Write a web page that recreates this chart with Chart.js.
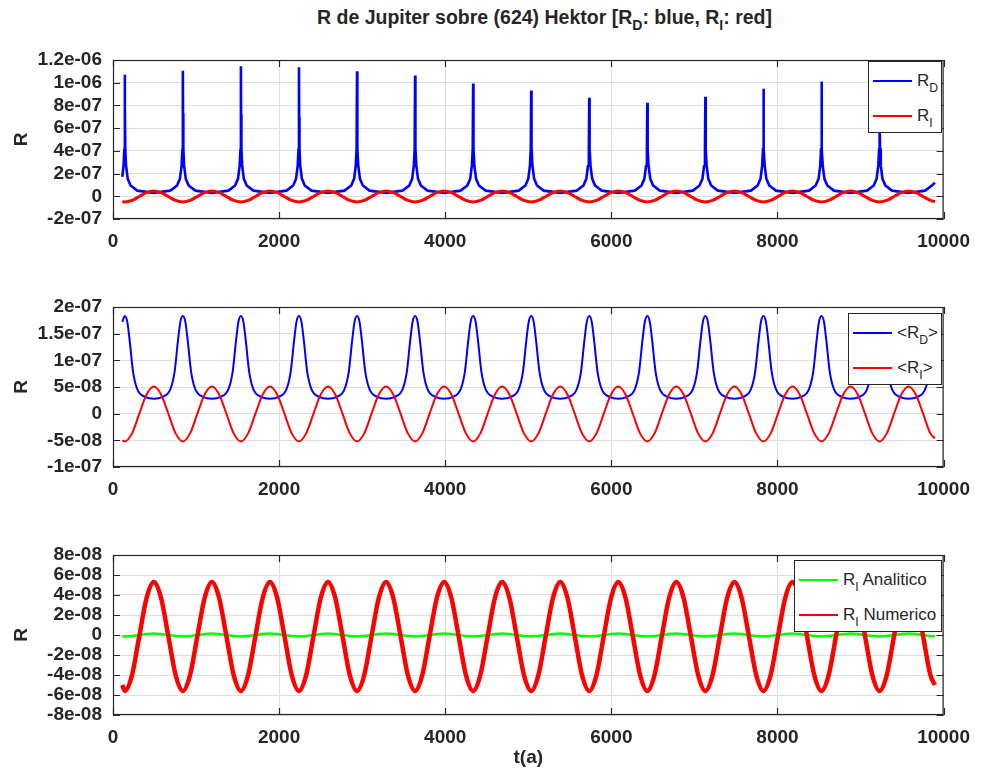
<!DOCTYPE html>
<html>
<head>
<meta charset="utf-8">
<script src="https://cdn.jsdelivr.net/npm/chart.js@4.4.0/dist/chart.umd.min.js"></script>
<style>
  body { margin: 0; background: #fff; }
  #wrap { position: relative; width: 981px; height: 774px; background: #fff; overflow: hidden; }
  canvas { position: absolute; left: 0; }
  #title { position: absolute; left: 127px; width: 835px; top: 6px; text-align: center; white-space: nowrap;
           font: bold 19.5px 'Liberation Sans Narrow', 'Liberation Sans', Arial, sans-serif; color: #262626; }
  sub { font-size: 0.72em; vertical-align: -0.45em; line-height: 0; }
  .legend { position: absolute; box-sizing: border-box; border: 1.5px solid #262626; background: #fff;
            font: 17px 'Liberation Sans', Arial, sans-serif; color: #262626; }
  .row { height: 35px; display: flex; align-items: center; padding-left: 4px; white-space: nowrap; }
  .swatch { width: 39px; height: 0; margin-right: 5px; }
</style>
</head>
<body>
<div id="wrap">
  <div id="title">R de Jupiter sobre (624) Hektor [R<sub>D</sub>: blue, R<sub>I</sub>: red]</div>
  <canvas id="c1" width="981" height="270" style="top:0px"></canvas>
  <canvas id="c2" width="981" height="250" style="top:270px"></canvas>
  <canvas id="c3" width="981" height="254" style="top:520px"></canvas>
</div>
<script>
// axis ticks
const xTicks = [0, 2000, 4000, 6000, 8000, 10000];
const xTickLabels = ['0', '2000', '4000', '6000', '8000', '10000'];
const yTicks1 = [-2e-7, 0, 2e-7, 4e-7, 6e-7, 8e-7, 1e-6, 1.2e-6];
const yTickLabels1 = ['-2e-07', '0', '2e-07', '4e-07', '6e-07', '8e-07', '1e-06', '1.2e-06'];
const yTicks2 = [-1e-7, -5e-8, 0, 5e-8, 1e-7, 1.5e-7, 2e-7];
const yTickLabels2 = ['-1e-07', '-5e-08', '0', '5e-08', '1e-07', '1.5e-07', '2e-07'];
const yTicks3 = [-8e-8, -6e-8, -4e-8, -2e-8, 0, 2e-8, 4e-8, 6e-8, 8e-8];
const yTickLabels3 = ['-8e-08', '-6e-08', '-4e-08', '-2e-08', '0', '2e-08', '4e-08', '6e-08', '8e-08'];

// legend labels ("_X" = subscript)
const labels1 = ['R_D', 'R_I'];
const labels2 = ['<R_D>', '<R_I>'];
const labels3 = ['R_I Analitico', 'R_I Numerico'];

// all values below are in units of 1e-8, times in years

// top panel, R_D (spikes)
const rD1Times = [112,127,137,142,144,148,157,177,212,292,492,
  691,771,806,826,836,841,843,847,856,876,911,991,1191,
  1390,1470,1505,1525,1535,1540,1542,1546,1555,1575,1610,1690,1890,
  2089,2169,2204,2224,2234,2239,2241,2245,2254,2274,2309,2389,2589,
  2788,2868,2903,2923,2933,2938,2940,2944,2953,2973,3008,3088,3288,
  3487,3567,3602,3622,3632,3637,3639,3643,3652,3672,3707,3787,3987,
  4186,4266,4301,4321,4331,4336,4338,4342,4351,4371,4406,4486,4686,
  4885,4965,5000,5020,5030,5035,5037,5041,5050,5070,5105,5185,5385,
  5584,5664,5699,5719,5729,5734,5736,5740,5749,5769,5804,5884,6084,
  6283,6363,6398,6418,6428,6433,6435,6439,6448,6468,6503,6583,6783,
  6982,7062,7097,7117,7127,7132,7134,7138,7147,7167,7202,7282,7482,
  7681,7761,7796,7816,7826,7831,7833,7837,7846,7866,7901,7981,8181,
  8380,8460,8495,8515,8525,8530,8532,8536,8545,8565,8600,8680,8880,
  9079,9159,9194,9214,9224,9229,9231,9235,9244,9264,9299,9379,9579,
  9779,9859,9896];
const rD1 = [17,27,42,107,75,42,27,15.5,9.5,5.0,3.0,
  5.0,9.5,15.5,27,42,110.5,73,42,27,15.5,9.5,5.0,3.0,
  5.0,9.5,15.5,27,42,114.5,72,42,27,15.5,9.5,5.0,3.0,
  5.0,9.5,15.5,27,42,113.7,70,42,27,15.5,9.5,5.0,3.0,
  5.0,9.5,15.5,27,42,110,67,42,27,15.5,9.5,5.0,3.0,
  5.0,9.5,15.5,27,42,106.3,65,42,27,15.5,9.5,5.0,3.0,
  5.0,9.5,15.5,27,42,99.3,62,42,27,15.5,9.5,5.0,3.0,
  5.0,9.5,15.5,27,42,93.1,62,42,27,15.5,9.5,5.0,3.0,
  5.0,9.5,15.5,27,42,86.7,55,42,27,15.5,9.5,5.0,3.0,
  5.0,9.5,15.5,27,42,82.3,53,42,27,15.5,9.5,5.0,3.0,
  5.0,9.5,15.5,27,42,87.6,62,42,27,15.5,9.5,5.0,3.0,
  5.0,9.5,15.5,27,42,94.6,65,42,27,15.5,9.5,5.0,3.0,
  5.0,9.5,15.5,27,42,101,68,42,27,15.5,9.5,5.0,3.0,
  5.0,9.5,15.5,27,42,104,66,42,27,15.5,9.5,5.0,3.0,
  5.0,9.5,12];

// middle panel, <R_D>
const rD2Times = [112,142,172,202,242,292,392,492,
  591,691,741,781,811,841,871,901,941,991,1091,1191,
  1290,1390,1440,1480,1510,1540,1570,1600,1640,1690,1790,1890,
  1989,2089,2139,2179,2209,2239,2269,2299,2339,2389,2489,2589,
  2688,2788,2838,2878,2908,2938,2968,2998,3038,3088,3188,3288,
  3387,3487,3537,3577,3607,3637,3667,3697,3737,3787,3887,3987,
  4086,4186,4236,4276,4306,4336,4366,4396,4436,4486,4586,4686,
  4785,4885,4935,4975,5005,5035,5065,5095,5135,5185,5285,5385,
  5484,5584,5634,5674,5704,5734,5764,5794,5834,5884,5984,6084,
  6183,6283,6333,6373,6403,6433,6463,6493,6533,6583,6683,6783,
  6882,6982,7032,7072,7102,7132,7162,7192,7232,7282,7382,7482,
  7581,7681,7731,7771,7801,7831,7861,7891,7931,7981,8081,8181,
  8280,8380,8430,8470,8500,8530,8560,8590,8630,8680,8780,8880,
  8979,9079,9129,9169,9199,9229,9259,9289,9329,9379,9479,9579,
  9679,9779,9829,9869,9896];
const rD2 = [17.2,18.3,17.2,13.5,7.8,4.6,3.1,2.8,
  3.1,4.6,7.8,13.5,17.2,18.3,17.2,13.5,7.8,4.6,3.1,2.8,
  3.1,4.6,7.8,13.5,17.2,18.3,17.2,13.5,7.8,4.6,3.1,2.8,
  3.1,4.6,7.8,13.5,17.2,18.3,17.2,13.5,7.8,4.6,3.1,2.8,
  3.1,4.6,7.8,13.5,17.2,18.3,17.2,13.5,7.8,4.6,3.1,2.8,
  3.1,4.6,7.8,13.5,17.2,18.3,17.2,13.5,7.8,4.6,3.1,2.8,
  3.1,4.6,7.8,13.5,17.2,18.3,17.2,13.5,7.8,4.6,3.1,2.8,
  3.1,4.6,7.8,13.5,17.2,18.3,17.2,13.5,7.8,4.6,3.1,2.8,
  3.1,4.6,7.8,13.5,17.2,18.3,17.2,13.5,7.8,4.6,3.1,2.8,
  3.1,4.6,7.8,13.5,17.2,18.3,17.2,13.5,7.8,4.6,3.1,2.8,
  3.1,4.6,7.8,13.5,17.2,18.3,17.2,13.5,7.8,4.6,3.1,2.8,
  3.1,4.6,7.8,13.5,17.2,18.3,17.2,13.5,7.8,4.6,3.1,2.8,
  3.1,4.6,7.8,13.5,17.2,18.3,17.2,13.5,7.8,4.6,3.1,2.8,
  3.1,4.6,7.8,13.5,17.2,18.3,17.2,13.5,7.8,4.6,3.1,2.8,
  3.1,4.6,7.8,13.5,16.5];

// sampling times shared by the R_I curves
const rITimes = [112,
  142,229,317,404,492,579,666,754,
  841,928,1016,1103,1191,1278,1365,1453,
  1540,1627,1715,1802,1890,1977,2064,2152,
  2239,2326,2414,2501,2589,2676,2763,2851,
  2938,3025,3113,3200,3288,3375,3462,3550,
  3637,3724,3812,3899,3987,4074,4161,4249,
  4336,4423,4511,4598,4686,4773,4860,4948,
  5035,5122,5210,5297,5385,5472,5559,5647,
  5734,5821,5909,5996,6084,6171,6258,6346,
  6433,6520,6608,6695,6783,6870,6957,7045,
  7132,7219,7307,7394,7482,7569,7656,7744,
  7831,7918,8006,8093,8181,8268,8355,8443,
  8530,8617,8705,8792,8880,8967,9054,9142,
  9229,9316,9404,9491,9579,9666,9753,9841,
  9896];

// top panel, R_I
const rI1 = [-4.8,
  -5.0,-3.6,-0.2,3.2,4.6,3.2,-0.2,-3.6,
  -5.0,-3.6,-0.2,3.2,4.6,3.2,-0.2,-3.6,
  -5.0,-3.6,-0.2,3.2,4.6,3.2,-0.2,-3.6,
  -5.0,-3.6,-0.2,3.2,4.6,3.2,-0.2,-3.6,
  -5.0,-3.6,-0.2,3.2,4.6,3.2,-0.2,-3.6,
  -5.0,-3.6,-0.2,3.2,4.6,3.2,-0.2,-3.6,
  -5.0,-3.6,-0.2,3.2,4.6,3.2,-0.2,-3.6,
  -5.0,-3.6,-0.2,3.2,4.6,3.2,-0.2,-3.6,
  -5.0,-3.6,-0.2,3.2,4.6,3.2,-0.2,-3.6,
  -5.0,-3.6,-0.2,3.2,4.6,3.2,-0.2,-3.6,
  -5.0,-3.6,-0.2,3.2,4.6,3.2,-0.2,-3.6,
  -5.0,-3.6,-0.2,3.2,4.6,3.2,-0.2,-3.6,
  -5.0,-3.6,-0.2,3.2,4.6,3.2,-0.2,-3.6,
  -5.0,-3.6,-0.2,3.2,4.6,3.2,-0.2,-3.6,
  -4.8];

// middle panel, <R_I>
const rI2 = [-5.0,
  -5.2,-3.7,0,3.6,5.1,3.6,0,-3.7,
  -5.2,-3.7,0,3.6,5.1,3.6,0,-3.7,
  -5.2,-3.7,0,3.6,5.1,3.6,0,-3.7,
  -5.2,-3.7,0,3.6,5.1,3.6,0,-3.7,
  -5.2,-3.7,0,3.6,5.1,3.6,0,-3.7,
  -5.2,-3.7,0,3.6,5.1,3.6,0,-3.7,
  -5.2,-3.7,0,3.6,5.1,3.6,0,-3.7,
  -5.2,-3.7,0,3.6,5.1,3.6,0,-3.7,
  -5.2,-3.7,0,3.6,5.1,3.6,0,-3.7,
  -5.2,-3.7,0,3.6,5.1,3.6,0,-3.7,
  -5.2,-3.7,0,3.6,5.1,3.6,0,-3.7,
  -5.2,-3.7,0,3.6,5.1,3.6,0,-3.7,
  -5.2,-3.7,0,3.6,5.1,3.6,0,-3.7,
  -5.2,-3.7,0,3.6,5.1,3.6,0,-3.7,
  -4.6];

// bottom panel, R_I numerico
const rI3 = [-5.0,
  -5.6,-4.0,-0.1,3.7,5.3,3.7,-0.1,-4.0,
  -5.6,-4.0,-0.1,3.7,5.3,3.7,-0.1,-4.0,
  -5.6,-4.0,-0.1,3.7,5.3,3.7,-0.1,-4.0,
  -5.6,-4.0,-0.1,3.7,5.3,3.7,-0.1,-4.0,
  -5.6,-4.0,-0.1,3.7,5.3,3.7,-0.1,-4.0,
  -5.6,-4.0,-0.1,3.7,5.3,3.7,-0.1,-4.0,
  -5.6,-4.0,-0.1,3.7,5.3,3.7,-0.1,-4.0,
  -5.6,-4.0,-0.1,3.7,5.3,3.7,-0.1,-4.0,
  -5.6,-4.0,-0.1,3.7,5.3,3.7,-0.1,-4.0,
  -5.6,-4.0,-0.1,3.7,5.3,3.7,-0.1,-4.0,
  -5.6,-4.0,-0.1,3.7,5.3,3.7,-0.1,-4.0,
  -5.6,-4.0,-0.1,3.7,5.3,3.7,-0.1,-4.0,
  -5.6,-4.0,-0.1,3.7,5.3,3.7,-0.1,-4.0,
  -5.6,-4.0,-0.1,3.7,5.3,3.7,-0.1,-4.0,
  -5.0];

// bottom panel, R_I analitico
const gI3 = [-0.1,
  -0.15,-0.1,0,0.1,0.15,0.1,0,-0.1,
  -0.15,-0.1,0,0.1,0.15,0.1,0,-0.1,
  -0.15,-0.1,0,0.1,0.15,0.1,0,-0.1,
  -0.15,-0.1,0,0.1,0.15,0.1,0,-0.1,
  -0.15,-0.1,0,0.1,0.15,0.1,0,-0.1,
  -0.15,-0.1,0,0.1,0.15,0.1,0,-0.1,
  -0.15,-0.1,0,0.1,0.15,0.1,0,-0.1,
  -0.15,-0.1,0,0.1,0.15,0.1,0,-0.1,
  -0.15,-0.1,0,0.1,0.15,0.1,0,-0.1,
  -0.15,-0.1,0,0.1,0.15,0.1,0,-0.1,
  -0.15,-0.1,0,0.1,0.15,0.1,0,-0.1,
  -0.15,-0.1,0,0.1,0.15,0.1,0,-0.1,
  -0.15,-0.1,0,0.1,0.15,0.1,0,-0.1,
  -0.15,-0.1,0,0.1,0.15,0.1,0,-0.1,
  -0.12];

const BLUE = '#0000ff';
const RED = '#ff0000';
const GREEN = '#00ff00';
const INK = '#262626';
const GRID = '#dedede';

Chart.defaults.font.family = "'Liberation Sans', Arial, sans-serif";
Chart.defaults.color = INK;

const pts = function(times, vals) {
    return times.map((t, i) => ({x: t, y: vals[i] * 1e-8}));
};

// box round the axes with inward tick marks (octave style)
const framePlugin = {
    id: 'frame',
    afterDraw(chart) {
        const {ctx, chartArea: a, scales} = chart;
        ctx.save();
        ctx.strokeStyle = INK;
        ctx.lineWidth = 1.2;
        ctx.strokeRect(a.left + 0.5, a.top + 0.5, a.right - a.left - 1, a.bottom - a.top - 1);
        ctx.beginPath();
        scales.x.ticks.forEach(t => {
            const px = Math.round(scales.x.getPixelForValue(t.value)) + 0.5;
            ctx.moveTo(px, a.bottom); ctx.lineTo(px, a.bottom - 7);
            ctx.moveTo(px, a.top); ctx.lineTo(px, a.top + 7);
        });
        scales.y.ticks.forEach(t => {
            const py = Math.round(scales.y.getPixelForValue(t.value)) + 0.5;
            ctx.moveTo(a.left, py); ctx.lineTo(a.left + 7, py);
            ctx.moveTo(a.right, py); ctx.lineTo(a.right - 7, py);
        });
        ctx.stroke();
        ctx.restore();
    }
};

const makeOptions = function(yMin, yMax, yTicks, yLabels, padTop, xHeight, xTitle) {
    return {
        responsive: false,
        animation: false,
        devicePixelRatio: 1,
        layout: {padding: {left: 0, right: 33, top: padTop, bottom: 0}},
        plugins: {legend: {display: false}, tooltip: {enabled: false}},
        scales: {
            x: {
                type: 'linear', min: 0, max: 10000,
                afterBuildTicks: s => { s.ticks = xTicks.map(v => ({value: v})); },
                afterFit: s => { s.height = xHeight; },
                grid: {color: GRID, drawTicks: false},
                border: {display: false},
                ticks: {
                    autoSkip: false, maxRotation: 0, padding: 11,
                    font: {size: 19, weight: 'bold'}, color: INK,
                    callback: (v, i) => xTickLabels[i]
                },
                title: {
                    display: !!xTitle, text: xTitle || '', color: INK,
                    font: {size: 19, weight: 'bold'}, padding: {top: 0, bottom: 5}
                }
            },
            y: {
                type: 'linear', min: yMin, max: yMax,
                afterBuildTicks: s => { s.ticks = yTicks.map(v => ({value: v})); },
                afterFit: s => { s.width = 113; },
                grid: {color: GRID, drawTicks: false},
                border: {display: false},
                ticks: {
                    autoSkip: false, padding: 11,
                    font: {size: 19, weight: 'bold'}, color: INK,
                    callback: (v, i) => yLabels[i]
                },
                title: {
                    display: true, text: 'R', color: INK,
                    font: {size: 19, weight: 'bold'}, padding: {top: 10, bottom: 0}
                }
            }
        }
    };
};

const lineSet = function(data, color, width, smooth, order) {
    return {
        data: data, borderColor: color, borderWidth: width, pointRadius: 0,
        fill: false, tension: 0, cubicInterpolationMode: smooth ? 'monotone' : 'default',
        borderJoinStyle: 'bevel', order: order
    };
};

const chart1 = new Chart(document.getElementById('c1'), {
    type: 'line',
    data: {datasets: [
        lineSet(pts(rD1Times, rD1), BLUE, 2.6, false, 2),
        lineSet(pts(rITimes, rI1), RED, 3, true, 1)
    ]},
    options: makeOptions(-2e-7, 1.2e-6, yTicks1, yTickLabels1, 60, 51),
    plugins: [framePlugin]
});

const chart2 = new Chart(document.getElementById('c2'), {
    type: 'line',
    data: {datasets: [
        lineSet(pts(rD2Times, rD2), BLUE, 2, true, 2),
        lineSet(pts(rITimes, rI2), RED, 2, true, 1)
    ]},
    options: makeOptions(-1e-7, 2e-7, yTicks2, yTickLabels2, 37, 53),
    plugins: [framePlugin]
});

const chart3 = new Chart(document.getElementById('c3'), {
    type: 'line',
    data: {datasets: [
        lineSet(pts(rITimes, gI3), GREEN, 2.5, true, 2),
        lineSet(pts(rITimes, rI3), RED, 4.5, true, 1)
    ]},
    options: makeOptions(-8e-8, 8e-8, yTicks3, yTickLabels3, 35, 59, 't(a)'),
    plugins: [framePlugin]
});

// html legends, so the subscripts can be real text
const subHtml = function(s) {
    return s.replace(/&/g, '&amp;').replace(/</g, '&lt;').replace(/>/g, '&gt;')
            .replace(/_(\w)/g, '<sub>$1</sub>');
};

const addLegend = function(chart, labels, left, top, width) {
    const box = document.createElement('div');
    box.className = 'legend';
    box.style.left = left + 'px';
    box.style.top = (parseInt(chart.canvas.style.top) + top) + 'px';
    box.style.width = width + 'px';
    box.style.height = '72px';
    box.style.paddingTop = '1px';
    labels.forEach((lab, i) => {
        const row = document.createElement('div');
        row.className = 'row';
        const sw = document.createElement('span');
        sw.className = 'swatch';
        sw.style.borderTop = '2px solid ' + chart.data.datasets[i].borderColor;
        const tx = document.createElement('span');
        tx.innerHTML = subHtml(lab);
        row.appendChild(sw);
        row.appendChild(tx);
        box.appendChild(row);
    });
    document.getElementById('wrap').appendChild(box);
};

addLegend(chart1, labels1, 868, 61, 74);
addLegend(chart2, labels2, 848, 43, 94);
addLegend(chart3, labels3, 794, 40, 148);
</script>
</body>
</html>
